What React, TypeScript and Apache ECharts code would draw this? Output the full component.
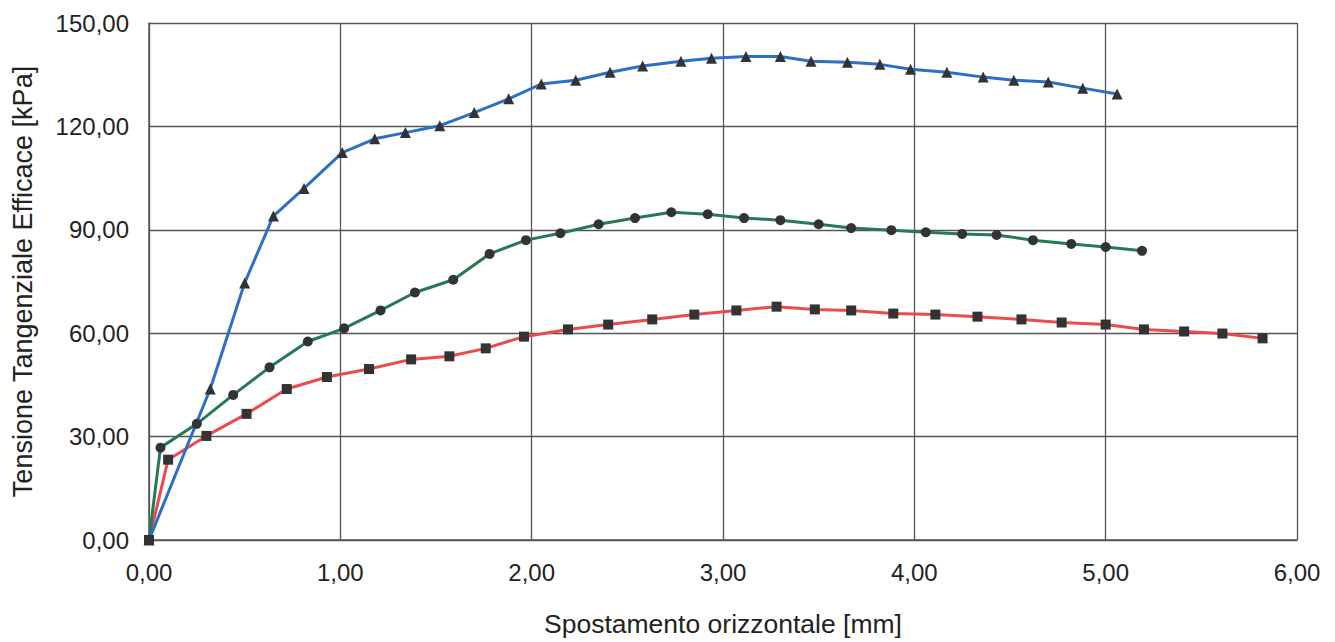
import React, { useEffect, useRef } from "react";
import * as echarts from "echarts";

const xTicksMax = 6;
const yTicksMax = 150;

const blueX = [0, 0.32, 0.5, 0.65, 0.81, 1.01, 1.18, 1.34, 1.52, 1.7, 1.88, 2.05, 2.23, 2.41, 2.58, 2.78, 2.94, 3.12, 3.3, 3.46, 3.65, 3.82, 3.98, 4.17, 4.36, 4.52, 4.7, 4.88, 5.06];
const blueY = [0, 43.8, 74.6, 94, 102, 112.4, 116.4, 118.2, 120.2, 124, 128, 132.3, 133.4, 135.7, 137.5, 138.9, 139.8, 140.3, 140.3, 138.9, 138.6, 138, 136.6, 135.7, 134.3, 133.4, 132.9, 131.1, 129.4];

const greenX = [0, 0.06, 0.25, 0.44, 0.63, 0.83, 1.02, 1.21, 1.39, 1.59, 1.78, 1.97, 2.15, 2.35, 2.54, 2.73, 2.92, 3.11, 3.3, 3.5, 3.67, 3.88, 4.06, 4.25, 4.43, 4.62, 4.82, 5.0, 5.19];
const greenY = [0, 26.8, 33.7, 42.1, 50.1, 57.6, 61.4, 66.6, 71.8, 75.5, 83, 87, 89, 91.6, 93.4, 95.1, 94.5, 93.4, 92.8, 91.6, 90.5, 89.9, 89.3, 88.8, 88.5, 87, 85.9, 85, 83.9];

const redX = [0, 0.1, 0.3, 0.51, 0.72, 0.93, 1.15, 1.37, 1.57, 1.76, 1.96, 2.19, 2.4, 2.63, 2.85, 3.07, 3.28, 3.48, 3.67, 3.89, 4.11, 4.33, 4.56, 4.77, 5.0, 5.2, 5.41, 5.61, 5.82];
const redY = [0, 23.3, 30.2, 36.6, 43.8, 47.3, 49.6, 52.4, 53.3, 55.6, 59, 61.1, 62.5, 64, 65.4, 66.6, 67.7, 66.9, 66.6, 65.7, 65.4, 64.8, 64, 63.1, 62.5, 61.1, 60.5, 59.9, 58.5];

const xTitle = "Spostamento orizzontale [mm]";
const yTitle = "Tensione Tangenziale Efficace [kPa]";

const zip = (xs: number[], ys: number[]) => xs.map((x, i) => [x, ys[i]]);
const fmt = (v: number) => v.toFixed(2).replace(".", ",");

export default function App() {
  const ref = useRef<HTMLDivElement>(null);
  useEffect(() => {
    if (!ref.current) return;
    const chart = echarts.init(ref.current, null, { renderer: "svg" });
    const font = "Liberation Sans, Arial, sans-serif";
    const mk = (name: string, xs: number[], ys: number[], color: string, symbol: string, size: number) => ({
      name,
      type: "line",
      data: zip(xs, ys),
      symbol,
      symbolSize: size,
      showAllSymbol: true,
      lineStyle: { color, width: 3 },
      itemStyle: { color: "#333333" },
      z: 3,
    });
    chart.setOption({
      animation: false,
      backgroundColor: "#ffffff",
      grid: { left: 149, right: 38, top: 23, bottom: 95, containLabel: false },
      xAxis: {
        type: "value",
        min: 0,
        max: xTicksMax,
        interval: 1,
        name: xTitle,
        nameLocation: "middle",
        nameGap: 70,
        nameTextStyle: { fontFamily: font, fontSize: 26.5, color: "#222" },
        axisLine: { show: true, lineStyle: { color: "#555", width: 1.5 } },
        axisTick: { show: false },
        axisLabel: { formatter: fmt, fontFamily: font, fontSize: 24, color: "#222", margin: 20 },
        splitLine: { show: true, lineStyle: { color: "#555", width: 1.3 } },
      },
      yAxis: {
        type: "value",
        min: 0,
        max: yTicksMax,
        interval: 30,
        name: yTitle,
        nameLocation: "middle",
        nameGap: 113,
        nameTextStyle: { fontFamily: font, fontSize: 27, color: "#222" },
        axisLine: { show: true, lineStyle: { color: "#555", width: 1.5 } },
        axisTick: { show: false },
        axisLabel: { formatter: fmt, fontFamily: font, fontSize: 24, color: "#222", margin: 20 },
        splitLine: { show: true, lineStyle: { color: "#555", width: 1.3 } },
      },
      series: [
        mk("red", redX, redY, "#ec4b4b", "rect", 10),
        mk("green", greenX, greenY, "#257a52", "circle", 10),
        mk("blue", blueX, blueY, "#2b6fc8", "triangle", 11),
      ],
    });
    return () => chart.dispose();
  }, []);
  return <div ref={ref} style={{ width: 1335, height: 642, position: "absolute", left: 0, top: 0 }} />;
}
